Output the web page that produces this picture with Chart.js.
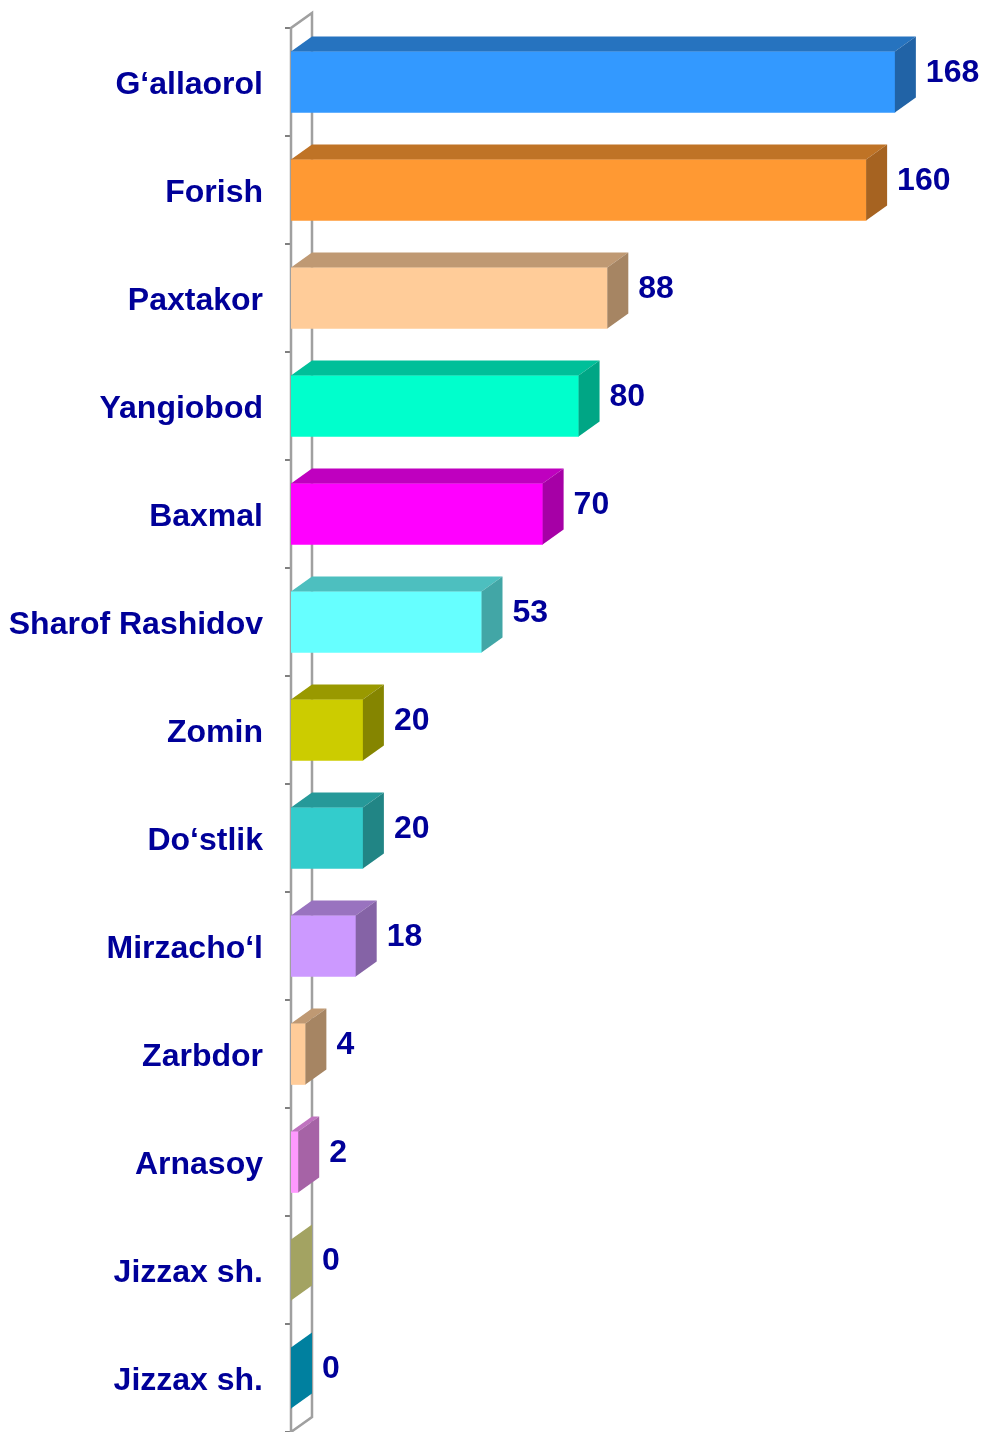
<!DOCTYPE html>
<html>
<head>
<meta charset="utf-8">
<script src="https://cdn.jsdelivr.net/npm/chart.js@4/dist/chart.umd.min.js"></script>
<style>
  html, body { margin: 0; padding: 0; background: #fff; }
  #wrap { width: 981px; height: 1432px; position: relative; }
</style>
</head>
<body>
<div id="wrap"><canvas id="bars"></canvas></div>
<script>
// data
const districts = ["G‘allaorol", "Forish", "Paxtakor", "Yangiobod", "Baxmal", "Sharof Rashidov",
  "Zomin", "Do‘stlik", "Mirzacho‘l", "Zarbdor", "Arnasoy", "Jizzax sh.", "Jizzax sh."];
const counts = [168, 160, 88, 80, 70, 53, 20, 20, 18, 4, 2, 0, 0];

// front face colours, top/side are shaded from these
const faceColors = ["#3399FF", "#FF9933", "#FFCC99", "#00FFCC", "#FF00FF", "#66FFFF",
  "#CCCC00", "#33CCCC", "#CC99FF", "#FFCC99", "#FF99FF", "#A3A362", "#00809F"];

const DX = 21, DY = 15;   // depth of the 3d boxes

function shade(hex, k) {
  const n = parseInt(hex.slice(1), 16);
  const r = Math.round(((n >> 16) & 255) * k);
  const g = Math.round(((n >> 8) & 255) * k);
  const b = Math.round((n & 255) * k);
  return "rgb(" + r + "," + g + "," + b + ")";
}

// back wall behind the bars
const wall = {
  id: "wall",
  beforeDatasetsDraw(chart) {
    const ctx = chart.ctx, a = chart.chartArea;
    ctx.save();
    ctx.strokeStyle = "#A0A0A0";
    ctx.lineWidth = 2.5;
    ctx.beginPath();
    ctx.moveTo(a.left, a.bottom);
    ctx.lineTo(a.left, a.top);
    ctx.lineTo(a.left + DX, a.top - DY);
    ctx.lineTo(a.left + DX, a.bottom - DY);
    ctx.lineTo(a.left, a.bottom);
    ctx.stroke();
    ctx.restore();
  }
};

// top + side faces and value labels
const box3d = {
  id: "box3d",
  afterDatasetsDraw(chart) {
    const ctx = chart.ctx;
    const meta = chart.getDatasetMeta(0);
    ctx.save();
    meta.data.forEach((bar, i) => {
      const x0 = bar.base, x1 = bar.x;
      const y0 = bar.y - bar.height / 2, y1 = bar.y + bar.height / 2;
      // top face
      if (x1 - x0 > 0) {
        ctx.fillStyle = shade(faceColors[i], 0.75);
        ctx.beginPath();
        ctx.moveTo(x0, y0);
        ctx.lineTo(x0 + DX, y0 - DY);
        ctx.lineTo(x1 + DX, y0 - DY);
        ctx.lineTo(x1, y0);
        ctx.closePath();
        ctx.fill();
      }
      // side face
      ctx.fillStyle = counts[i] === 0 ? faceColors[i] : shade(faceColors[i], 0.65);
      ctx.beginPath();
      ctx.moveTo(x1, y0);
      ctx.lineTo(x1 + DX, y0 - DY);
      ctx.lineTo(x1 + DX, y1 - DY);
      ctx.lineTo(x1, y1);
      ctx.closePath();
      ctx.fill();
      // value
      ctx.fillStyle = "#000099";
      ctx.font = "bold 32px 'Liberation Sans', Arial, sans-serif";
      ctx.textAlign = "left";
      ctx.textBaseline = "middle";
      ctx.fillText(counts[i], x1 + DX + 10, bar.y - 9);
    });
    ctx.restore();
  }
};

new Chart(document.getElementById("bars"), {
  type: "bar",
  data: {
    labels: districts,
    datasets: [{
      data: counts,
      backgroundColor: faceColors,
      borderWidth: 0,
      barThickness: 61
    }]
  },
  options: {
    indexAxis: "y",
    responsive: true,
    maintainAspectRatio: false,
    animation: false,
    layout: { padding: { top: 28, right: 43, bottom: 0, left: 0 } },
    plugins: { legend: { display: false }, tooltip: { enabled: false } },
    scales: {
      x: { min: 0, max: 180, display: false },
      y: {
        border: { display: false },
        grid: { drawOnChartArea: false, drawTicks: true, tickLength: 6, color: "#808080", lineWidth: 2 },
        ticks: {
          color: "#000099",
          padding: 22,
          labelOffset: 3,
          font: { family: "'Liberation Sans', Arial, sans-serif", size: 32, weight: "bold" }
        },
        afterFit(scale) {
          scale.width = 291;
          scale.paddingTop = 0;
          scale.paddingBottom = 0;
        }
      }
    }
  },
  plugins: [wall, box3d]
});
</script>
</body>
</html>
